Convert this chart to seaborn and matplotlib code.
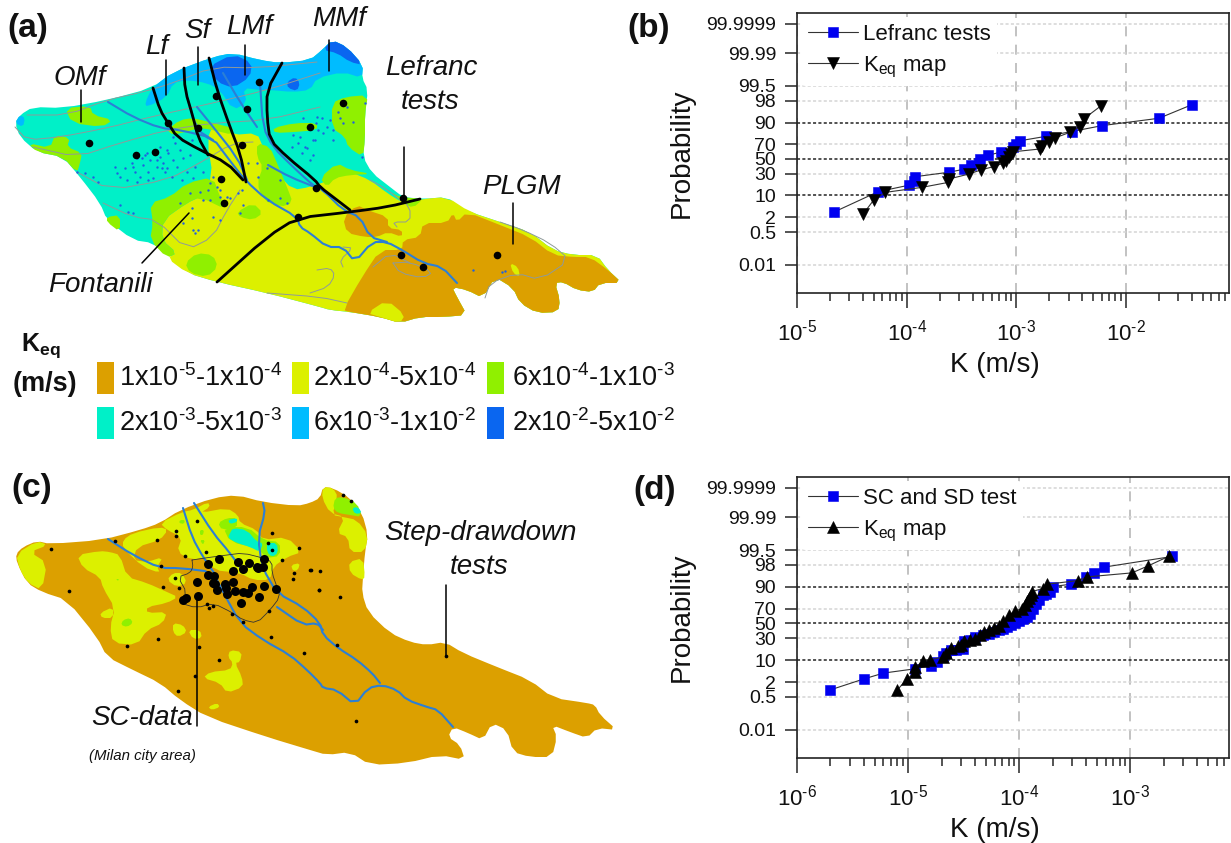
#!/usr/bin/env python3
from statistics import NormalDist

import numpy as np
import pandas as pd
import seaborn as sns
import matplotlib.pyplot as plt
from matplotlib.patches import Rectangle
from matplotlib.ticker import LogLocator, NullFormatter, NullLocator

W, H = 1231, 843

# probability plots
prob_ticks = [0.01, 0.5, 2, 10, 30, 50, 70, 90, 98, 99.5, 99.99, 99.9999]
prob_labels = ['0.01', '0.5', '2', '10', '30', '50', '70', '90', '98', '99.5', '99.99', '99.9999']

lefranc_k = [2.18e-5, 5.5e-5, 1.06e-4, 1.17e-4, 1.19e-4, 2.42e-4, 3.3e-4, 3.9e-4, 4.6e-4, 4.7e-4,
             5.5e-4, 7.3e-4, 9.3e-4, 1e-3, 1.09e-3, 1.88e-3, 3.2e-3, 6.1e-3, 2e-2, 4e-2]
lefranc_p = [3.1, 12.5, 17.9, 22, 26.6, 32, 35.8, 41.6, 45, 50,
             55, 59.8, 66, 70, 74, 78.8, 83.3, 88, 92.4, 97.2]

map_b_k = [4e-5, 5e-5, 6.4e-5, 1.38e-4, 2.4e-4, 2.42e-4, 3.7e-4, 4.75e-4, 6.2e-4, 7.6e-4, 8e-4,
           8.5e-4, 8.9e-4, 9.4e-4, 1.66e-3, 1.7e-3, 2e-3, 2.25e-3, 3.1e-3, 3.8e-3, 4.1e-3, 5.9e-3]
map_b_p = [2.6, 7.4, 12, 15.9, 20.5, 24, 29.8, 35, 39.4, 44, 47.6,
           52.4, 57, 60, 63.8, 68, 73, 77, 82.7, 87.3, 92, 96.9]

sc_k = [2e-6, 4e-6, 6e-6, 1.15e-5, 1.6e-5, 1.8e-5, 2.06e-5, 2.2e-5, 2.43e-5, 2.7e-5, 3.1e-5, 3.2e-5,
        3.6e-5, 4e-5, 4.7e-5, 5.3e-5, 5.9e-5, 6.5e-5, 7.2e-5, 7.8e-5, 8.5e-5, 9.2e-5, 1e-4, 1.08e-4,
        1.18e-4, 1.25e-4, 1.33e-4, 1.42e-4, 1.5e-4, 1.62e-4, 1.75e-4, 1.9e-4, 2e-4, 2.9e-4, 4e-4,
        4.7e-4, 5.8e-4, 2.37e-3]
sc_p = [1, 2.6, 4.1, 5.6, 7, 8.8, 13, 15, 17.3, 18, 18.9, 26.6,
        28, 32, 34, 36, 38, 41, 43, 45, 47.6, 50, 53.7, 56,
        59.3, 63, 70, 75, 79.4, 84, 85, 86.8, 90.2, 91.6, 95,
        96.1, 97.6, 99.06]

map_d_k = [8e-6, 9.8e-6, 1.15e-5, 1.16e-5, 1.36e-5, 1.58e-5, 2.07e-5, 2.2e-5, 2.43e-5, 2.8e-5, 3e-5,
           3.2e-5, 3.6e-5, 4e-5, 4.4e-5, 4.8e-5, 5.3e-5, 5.9e-5, 6.5e-5, 7.2e-5, 8.1e-5, 9.2e-5,
           1.05e-4, 1.13e-4, 1.18e-4, 1.22e-4, 1.27e-4, 1.3e-4, 1.62e-4, 1.79e-4, 3.4e-4, 4.1e-4,
           1.03e-3, 1.43e-3, 2.24e-3]
map_d_p = [1, 2.6, 4.4, 6.3, 9.2, 10.2, 12, 15, 19.5, 21, 23,
           26.6, 28, 29.8, 34, 38.4, 41, 44, 47, 53, 61.6, 66.8,
           70, 74, 78, 81, 84, 86.8, 89, 91.6, 93.4, 94.9,
           96.2, 97.8, 99.1]

# map legend
class_colors = ['#dca000', '#dcf000', '#90f000', '#00f0c8', '#00bcff', '#0a66f0']
class_labels = ['1x10$^{\u20105}$-1x10$^{\u20104}$', '2x10$^{\u20104}$-5x10$^{\u20104}$',
                '6x10$^{\u20104}$-1x10$^{\u20103}$', '2x10$^{\u20103}$-5x10$^{\u20103}$',
                '6x10$^{\u20103}$-1x10$^{\u20102}$', '2x10$^{\u20102}$-5x10$^{\u20102}$']
ORANGE, YELLOW, GREEN, TEAL, SKY, BLUE = class_colors
RIVER = '#2b7fd6'
GREY = '#8f9a9a'

# map (a), traced in image pixels
a_bottom = [(600, 283), (593, 292), (577, 290), (563, 282), (555, 283), (560, 300), (558, 312), (537, 313), (520, 303),
            (513, 288), (495, 277), (483, 298), (467, 290), (452, 287), (457, 297), (467, 315), (443, 317), (420, 317),
            (400, 323), (380, 317), (350, 312), (330, 310), (320, 307), (267, 293), (217, 282), (187, 273)]
a_outline = [(15, 123), (20, 115), (33, 107), (63, 108), (107, 100), (152, 88), (173, 72), (213, 57), (233, 53),
             (260, 60), (280, 63), (310, 60), (322, 50), (332, 40), (347, 47), (363, 65), (362, 78), (368, 90),
             (365, 113), (365, 137), (363, 157), (372, 173), (390, 187), (403, 197), (423, 199), (447, 197), (460, 207),
             (470, 212), (500, 222), (530, 232), (553, 250), (573, 255), (597, 255), (608, 270), (622, 283)] + a_bottom + [
             (177, 260), (153, 243), (133, 240), (107, 220), (100, 203), (80, 177), (63, 157), (37, 152), (20, 137)]
a_sky = [[(145, 103), (152, 88), (173, 72), (213, 57), (233, 53), (260, 60), (280, 63), (310, 60), (322, 50), (332, 40),
          (347, 47), (363, 65), (362, 78), (343, 72), (317, 78), (310, 90), (293, 92), (270, 90), (260, 90), (243, 88),
          (247, 103), (233, 110), (220, 90), (207, 83), (187, 80), (173, 83), (167, 97), (147, 107)],
         [(15, 123), (20, 115), (25, 118), (23, 127)]]
a_blue = [[(208, 67), (233, 54), (252, 63), (250, 77), (233, 88), (217, 82)],
          [(323, 50), (332, 40), (347, 47), (363, 65), (350, 62), (337, 53)],
          [(287, 82), (295, 77), (300, 83), (297, 91), (288, 88)]]
a_yellow = [[(213, 125), (233, 135), (257, 133), (263, 147), (267, 165), (277, 173), (293, 190), (310, 187), (330, 180),
             (350, 172), (370, 180), (387, 193), (403, 203), (423, 199), (447, 197), (470, 212), (500, 222), (530, 232),
             (553, 250), (573, 255), (597, 255), (608, 270), (622, 283)] + a_bottom + [
             (167, 258), (177, 253), (162, 240), (163, 220), (187, 203), (200, 197), (213, 177), (207, 140)]]
a_green = [[(28, 143), (50, 148), (55, 135), (70, 138), (67, 147), (82, 153), (80, 163), (77, 173), (63, 157), (37, 152)],
           [(65, 108), (90, 106), (93, 115), (113, 120), (102, 127), (72, 123)],
           [(107, 217), (120, 215), (120, 232), (107, 222)],
           [(150, 203), (170, 197), (187, 183), (213, 177), (220, 197), (227, 210), (200, 197), (187, 203), (163, 220),
            (162, 240), (177, 253), (167, 258), (150, 240), (153, 223)],
           [(185, 263), (197, 253), (213, 255), (218, 267), (207, 277), (190, 273)],
           [(167, 130), (180, 120), (193, 118), (213, 123), (233, 128), (233, 135), (213, 130), (200, 128), (185, 132),
            (173, 135)],
           [(257, 143), (270, 147), (277, 163), (287, 187), (293, 203), (280, 207), (263, 200), (257, 183), (263, 167),
            (257, 157)],
           [(237, 212), (253, 203), (263, 213), (253, 220), (240, 217)],
           [(273, 128), (295, 123), (317, 123), (317, 130), (295, 132), (275, 133)],
           [(332, 103), (345, 97), (368, 95), (365, 113), (365, 140), (363, 157), (348, 147), (345, 137), (332, 128)],
           [(320, 178), (337, 163), (350, 170), (372, 174), (350, 175), (335, 178), (327, 187)],
           [(400, 197), (423, 199), (413, 208), (403, 203), (390, 192)]]
a_orange = [[(403, 240), (420, 237), (423, 223), (447, 223), (453, 213), (457, 222), (467, 212), (500, 225), (530, 237),
             (553, 255), (573, 257), (590, 257), (608, 270), (622, 283), (600, 283), (593, 292), (577, 290), (563, 282),
             (555, 283), (560, 300), (558, 312), (537, 313), (520, 303), (513, 288), (495, 277), (483, 298), (467, 290),
             (452, 287), (457, 297), (467, 315), (443, 317), (420, 317), (400, 323), (380, 317), (350, 312), (343, 310),
             (362, 277), (380, 250), (402, 250)],
            [(343, 218), (357, 205), (367, 210), (388, 217), (388, 228), (402, 230), (402, 237), (388, 232), (377, 237),
             (365, 237), (347, 233)]]
a_yellow_top = [[(367, 313), (387, 300), (405, 315), (400, 323), (380, 317)],
                [(510, 263), (518, 267), (520, 277), (513, 273)]]
a_rivers = [[(108, 102), (133, 117), (160, 128), (180, 130), (213, 138), (227, 157), (245, 180), (267, 200), (297, 217),
             (300, 227), (310, 233), (327, 247), (343, 247), (355, 262), (372, 242), (387, 242), (402, 250), (423, 263),
             (442, 267), (457, 283)],
            [(260, 83), (263, 127), (273, 147), (293, 167), (315, 187), (323, 190), (343, 210), (360, 217), (370, 237),
             (387, 242)],
            [(197, 107), (210, 123), (237, 157), (247, 180)],
            [(187, 97), (197, 130), (213, 140)],
            [(223, 73), (240, 102), (257, 127)],
            [(268, 165), (290, 177), (315, 187)]]
a_greys = [[(27, 115), (67, 115), (107, 100), (143, 92), (173, 83), (213, 67), (257, 68), (317, 62)],
           [(15, 127), (27, 140), (60, 137), (107, 128), (150, 117), (213, 103), (267, 90), (320, 73)],
           [(33, 147), (77, 157), (120, 143), (167, 130), (213, 123), (267, 120), (320, 107)],
           [(77, 172), (110, 190), (167, 180), (200, 163), (233, 143), (253, 142)],
           [(103, 203), (133, 217), (157, 220), (187, 250), (213, 237), (227, 210), (240, 190)],
           [(317, 270), (330, 268), (335, 275), (328, 287), (310, 293)],
           [(370, 180), (383, 187), (397, 197), (410, 207), (410, 222), (393, 222), (397, 227)],
           [(393, 263), (410, 262), (433, 272), (423, 278), (400, 273), (393, 263)],
           [(373, 267), (390, 253), (410, 263)],
           [(500, 222), (523, 230), (550, 243), (570, 260), (540, 280), (517, 273), (490, 283), (485, 298)],
           [(343, 247), (353, 248), (340, 260), (343, 267)],
           [(267, 293), (320, 297), (347, 303)]]
a_faults = [[(153, 88), (160, 110), (168, 123), (177, 137), (200, 150), (227, 163), (243, 180)],
            [(184, 68), (185, 90), (193, 117), (198, 137), (208, 155)],
            [(209, 58), (217, 90), (230, 127), (240, 153), (246, 182)],
            [(282, 63), (267, 90), (267, 117), (270, 140), (287, 157), (315, 180), (320, 187), (337, 200), (350, 210)],
            [(217, 282), (267, 237), (297, 218), (350, 212), (387, 207), (420, 199)]]
a_wells = [(89, 143), (136, 155), (155, 152), (168, 123), (198, 128), (216, 96), (259, 82), (247, 109), (242, 145),
           (221, 179), (224, 203), (298, 217), (316, 188), (310, 127), (343, 103), (403, 198), (401, 255), (423, 267),
           (497, 255)]
a_dots_x = [115, 117, 120, 125, 127, 132, 135, 137, 140, 143, 145, 148, 150, 153, 157, 160, 163, 165, 168, 172, 173, 177,
            180, 183, 187, 190, 192, 183, 175, 167, 160, 148, 137, 195, 203, 193, 182, 167, 162, 157, 147, 142, 133, 173,
            77, 85, 93, 98, 120, 128, 133, 213, 210, 217, 220, 208, 200, 190, 220, 227, 230, 238, 242, 243, 203, 210, 180,
            192, 213, 192, 183, 193, 198, 195, 220, 240, 267, 248, 257, 268, 287, 280, 258, 280, 293, 298, 303, 307, 302,
            317, 316, 313, 300, 292, 305, 310, 313, 322, 327, 330, 333, 340, 343, 347, 338, 343, 318, 323, 333, 315, 353,
            365, 362, 473, 502, 505]
a_dots_y = [167, 173, 177, 168, 180, 163, 172, 158, 177, 165, 155, 172, 160, 178, 167, 157, 163, 172, 153, 177, 160, 167,
            150, 158, 172, 155, 140, 140, 143, 150, 147, 180, 182, 167, 172, 178, 180, 168, 168, 160, 153, 158, 167, 137,
            172, 173, 177, 182, 205, 212, 213, 177, 183, 187, 190, 190, 192, 193, 197, 197, 198, 193, 190, 205, 200, 200,
            203, 208, 217, 218, 223, 230, 230, 233, 220, 213, 168, 163, 163, 200, 203, 198, 177, 180, 135, 143, 118, 148,
            153, 117, 123, 140, 137, 147, 147, 160, 155, 118, 127, 120, 130, 118, 123, 107, 112, 105, 130, 133, 140, 140,
            122, 103, 157, 270, 272, 271]

# map (c), traced in image pixels
c_outline = [(16, 554), (23, 547), (37, 541), (50, 544), (102, 540), (140, 530), (160, 523), (180, 510), (213, 498),
             (237, 495), (263, 502), (297, 506), (310, 503), (320, 498), (323, 487), (333, 488), (350, 498), (362, 513),
             (368, 535), (365, 552), (363, 577), (362, 593), (368, 612), (390, 633), (410, 642), (427, 645), (445, 642),
             (463, 653), (497, 667), (530, 680), (553, 698), (587, 703), (595, 705), (600, 715), (617, 730), (597, 728),
             (587, 738), (570, 732), (552, 725), (557, 737), (552, 757), (530, 757), (513, 752), (507, 730), (492, 723),
             (483, 740), (468, 733), (453, 727), (448, 737), (460, 745), (465, 760), (440, 755), (407, 763), (370, 765),
             (350, 752), (327, 755), (310, 750), (267, 737), (207, 717), (180, 700), (160, 683), (133, 670), (107, 657),
             (97, 637), (67, 600), (42, 592), (27, 583), (17, 563)]
c_yellow = [[(16, 554), (37, 541), (48, 545), (30, 552), (47, 563), (42, 590), (28, 583), (20, 570)],
            [(77, 555), (100, 551), (110, 552), (120, 555), (127, 577), (147, 583), (167, 592), (178, 597), (167, 603),
             (147, 607), (147, 613), (167, 612), (163, 623), (147, 630), (137, 645), (113, 643), (110, 627), (115, 608),
             (103, 588), (100, 577), (83, 568)],
            [(100, 613), (113, 607), (113, 618), (102, 618)],
            [(123, 540), (133, 533), (160, 527), (168, 530), (160, 540), (137, 547), (133, 560), (147, 562), (163, 557),
             (157, 567), (160, 573), (143, 567), (123, 548)],
            [(160, 523), (182, 512), (193, 510), (208, 502), (210, 507), (200, 513), (227, 508), (238, 515), (240, 523),
             (257, 530), (263, 540), (287, 537), (302, 552), (287, 557), (273, 567), (270, 580), (253, 580), (240, 573),
             (213, 570), (207, 557), (192, 560), (177, 552), (182, 537), (167, 530)],
            [(173, 573), (182, 573), (187, 583), (177, 587), (167, 580)],
            [(173, 623), (183, 625), (187, 632), (178, 637), (173, 632)],
            [(188, 630), (200, 630), (202, 638), (193, 639)],
            [(230, 650), (242, 652), (240, 662), (235, 663), (242, 677), (243, 687), (227, 693), (220, 683), (203, 678),
             (210, 672), (230, 670), (233, 663), (228, 657)],
            [(208, 707), (217, 703), (220, 707), (212, 710)],
            [(291, 565), (300, 563), (298, 570), (293, 571)],
            [(323, 487), (333, 488), (338, 497), (332, 515), (343, 517), (357, 520), (368, 535), (365, 552), (350, 552),
             (348, 537), (337, 533), (345, 517), (330, 513), (322, 498)],
            [(349, 562), (363, 558), (365, 577), (362, 580), (350, 573)]]
c_green = [[(123, 620), (130, 618), (133, 623), (127, 627), (121, 625)],
           [(116, 579), (119, 579), (118, 581)],
           [(180, 520), (185, 520), (184, 524), (179, 523)],
           [(200, 530), (204, 530), (203, 535), (200, 535)],
           [(200, 540), (205, 540), (203, 545)],
           [(218, 523), (227, 518), (237, 518), (237, 528), (222, 530)],
           [(223, 527), (248, 527), (263, 540), (280, 542), (280, 556), (267, 558), (257, 548), (230, 542)],
           [(335, 498), (343, 497), (357, 503), (362, 517), (350, 515), (338, 513), (333, 508)]]
c_teal = [[(230, 533), (233, 528), (247, 530), (257, 542), (263, 543), (260, 552), (250, 547), (237, 543), (228, 538)],
          [(267, 543), (277, 543), (278, 553), (272, 557), (267, 552)],
          [(228, 520), (237, 518), (237, 522), (230, 524)],
          [(352, 508), (358, 507), (362, 513), (355, 514)]]
c_rivers = [[(108, 539), (133, 555), (160, 568), (180, 568), (213, 572), (222, 590), (240, 623), (263, 640), (290, 655),
             (307, 670), (320, 683), (323, 688), (337, 690), (355, 705), (368, 688), (382, 685), (397, 690), (407, 700),
             (427, 707), (438, 710), (453, 727)],
            [(263, 503), (265, 513), (258, 537), (262, 567), (277, 593), (303, 607), (320, 623), (323, 635), (338, 648),
             (357, 660), (372, 673), (380, 683)],
            [(183, 508), (192, 537), (203, 557), (217, 577)],
            [(194, 503), (213, 533), (230, 553), (242, 570)],
            [(277, 607), (303, 625), (317, 623), (323, 630)]]
c_city = [(192, 560), (205, 558), (227, 555), (243, 553), (263, 558), (272, 562), (272, 573), (277, 587), (280, 597),
          (270, 610), (257, 623), (243, 620), (233, 613), (213, 603), (197, 608), (180, 603), (187, 593), (178, 577),
          (190, 573), (193, 567), (192, 560)]
c_wells = [(51, 549), (69, 591), (115, 541), (157, 540), (176, 531), (176, 536), (197, 521), (185, 556), (206, 552),
           (161, 566), (175, 578), (163, 587), (179, 588), (207, 604), (209, 608), (213, 606), (232, 614), (243, 622),
           (269, 611), (158, 639), (127, 646), (199, 647), (219, 660), (195, 676), (178, 691), (271, 637), (304, 653),
           (272, 533), (268, 543), (299, 548), (282, 560), (272, 550), (311, 570), (294, 573), (293, 579), (319, 590),
           (310, 570), (320, 571), (319, 590), (340, 597), (337, 645), (356, 721), (446, 656), (343, 495), (351, 501)]
c_blobs_x = [208, 219, 238, 249, 257, 264, 263, 233, 243, 197, 208, 214, 215, 233, 225, 217, 226, 227, 235, 243, 248,
             252, 264, 276, 259, 241, 186, 198, 183, 258, 213]
c_blobs_y = [564, 559, 562, 563, 567, 559, 567, 571, 569, 582, 575, 576, 584, 582, 584, 590, 588, 594, 591, 592, 593, 587,
             586, 589, 597, 603, 598, 596, 600, 568, 583]

leaders = [((166, 60), (166, 95)), ((198, 47), (198, 85)), ((245, 45), (245, 75)), ((329, 40), (329, 71)),
           ((81, 90), (81, 122)), ((189, 213), (142, 263)), ((404, 147), (404, 198)), ((513, 203), (513, 244)),
           ((197, 597), (197, 726)), ((446, 585), (446, 656))]


def smooth(points, closed=True, rounds=1):
    pts = np.array(points, dtype=float)
    for _ in range(rounds):
        nxt = np.roll(pts, -1, axis=0)
        q = 0.75 * pts + 0.25 * nxt
        r = 0.25 * pts + 0.75 * nxt
        both = np.column_stack([q, r]).reshape(-1, 2)
        if closed:
            pts = both
        else:
            pts = np.vstack([pts[0], both[:-2], pts[-1]])
    return pts


def fill_areas(ax, areas, color, z=1):
    for area in areas:
        pts = smooth(area)
        ax.fill(pts[:, 0], pts[:, 1], color=color, lw=0, zorder=z)


def draw_lines(ax, groups, rounds=1, **style):
    for group in groups:
        pts = smooth(group, closed=False, rounds=rounds)
        ax.plot(pts[:, 0], pts[:, 1], solid_capstyle='round', solid_joinstyle='round', **style)


def probit(p):
    p = np.clip(np.asarray(p, dtype=float), 1e-7, 100 - 1e-7)
    return np.vectorize(lambda v: NormalDist().inv_cdf(v / 100), otypes=[float])(p)


def inverse_probit(z):
    return np.vectorize(lambda v: NormalDist().cdf(v) * 100, otypes=[float])(np.asarray(z, dtype=float))


def prob_panel(box, k1, p1, k2, p2, label1, label2, marker2, xlim, xticks, xticklabels):
    left, top, right, bottom = box
    ax = fig.add_axes([left / W, 1 - bottom / H, (right - left) / W, (bottom - top) / H])
    df1 = pd.DataFrame({'K': k1, 'P': p1})
    df2 = pd.DataFrame({'K': k2, 'P': p2})
    sns.lineplot(data=df1, x='K', y='P', sort=False, estimator=None, ax=ax, color='#333333', lw=0.8,
                 marker='s', ms=6.6, mfc='#0000f0', mec='#0000f0', mew=0.4, label=label1, zorder=4)
    sns.lineplot(data=df2, x='K', y='P', sort=False, estimator=None, ax=ax, color='#333333', lw=0.8,
                 marker=marker2, ms=8, mfc='black', mec='black', mew=0.4, label=label2, zorder=5)
    ax.set_xscale('log')
    ax.set_yscale('function', functions=(probit, inverse_probit))
    ax.set_xlim(*xlim)
    ax.set_ylim(1.2e-4, 99.999986)
    ax.set_yticks(prob_ticks)
    ax.set_yticklabels(prob_labels)
    ax.yaxis.set_minor_locator(NullLocator())
    ax.set_xticks(xticks)
    ax.set_xticklabels(xticklabels)
    ax.xaxis.set_minor_locator(LogLocator(base=10, subs=np.arange(2, 10) / 10, numticks=20))
    ax.xaxis.set_minor_formatter(NullFormatter())
    ax.tick_params(axis='y', which='major', length=9, width=1.1, labelsize=14, pad=6, direction='out', labelcolor='#111111')
    ax.tick_params(axis='x', which='major', length=10.8, width=1.1, labelsize=16, pad=8, direction='out', labelcolor='#111111')
    ax.tick_params(axis='x', which='minor', length=5.5, width=1.1, direction='out')
    ax.set_axisbelow(True)
    ax.xaxis.grid(True, which='major', color='#b8b8b8', ls=(0, (6, 5)), lw=1.2)
    for p in prob_ticks:
        if p in (10, 50, 90):
            ax.axhline(p, color='#222222', ls=(0, (2, 1.5)), lw=1.1, zorder=1)
        else:
            ax.axhline(p, color='#d4d4d4', ls=(0, (2, 1.5)), lw=1.1, zorder=1)
    for side in ax.spines.values():
        side.set_linewidth(1.2)
        side.set_color('#222222')
    ax.set_xlabel('K (m/s)', fontsize=20, color='#111111')
    ax.set_ylabel('Probability', fontsize=20, color='#111111')
    ax.xaxis.set_label_coords(0.458, -0.21)
    ax.yaxis.set_label_coords(-0.236, 0.5)
    leg = ax.legend(loc='upper left', frameon=True, framealpha=1, edgecolor='none', facecolor='white', fontsize=16,
                    labelspacing=0.42, borderaxespad=0.2, handlelength=2.25, handletextpad=0.2, borderpad=0.3)
    for text in leg.get_texts():
        text.set_color('#111111')
    return ax


sns.set_theme(style='ticks')
plt.rcParams['font.family'] = ['Liberation Sans', 'DejaVu Sans']
plt.rcParams['mathtext.fontset'] = 'custom'
plt.rcParams['mathtext.rm'] = 'Liberation Sans'
plt.rcParams['mathtext.bf'] = 'Liberation Sans:bold'
plt.rcParams['mathtext.default'] = 'regular'
plt.rcParams['axes.edgecolor'] = '#222222'

fig = plt.figure(figsize=(W / 100, H / 100), dpi=100, facecolor='white')

# canvas in pixels for the two maps and all free text
bg = fig.add_axes([0, 0, 1, 1])
bg.set_xlim(0, W)
bg.set_ylim(H, 0)
bg.axis('off')

# map (a)
fill_areas(bg, [a_outline], TEAL, 1)
fill_areas(bg, a_sky, SKY, 2)
fill_areas(bg, a_blue, BLUE, 3)
fill_areas(bg, a_yellow, YELLOW, 2)
fill_areas(bg, a_green, GREEN, 3)
fill_areas(bg, a_orange, ORANGE, 4)
fill_areas(bg, a_yellow_top, YELLOW, 5)
draw_lines(bg, a_greys, color=GREY, lw=0.7, zorder=6)
draw_lines(bg, a_rivers, color=RIVER, lw=1.5, zorder=7)
draw_lines(bg, a_faults, color='black', lw=2.0, zorder=8)
bg.scatter(a_dots_x, a_dots_y, s=3, color='#2060e0', lw=0, zorder=7)
xs, ys = zip(*a_wells)
bg.scatter(xs, ys, s=30, color='black', lw=0, zorder=9)

# map (c)
fill_areas(bg, [c_outline], ORANGE, 1)
fill_areas(bg, c_yellow, YELLOW, 2)
fill_areas(bg, c_green, GREEN, 3)
fill_areas(bg, c_teal, TEAL, 4)
draw_lines(bg, c_rivers, color=RIVER, lw=1.5, zorder=5)
draw_lines(bg, [c_city], color='#333333', lw=0.6, zorder=5)
xs, ys = zip(*c_wells)
bg.scatter(xs, ys, s=7, color='black', lw=0, zorder=7)
bg.scatter(c_blobs_x, c_blobs_y, s=42, color='black', lw=0, zorder=7)

for start, end in leaders:
    bg.plot([start[0], end[0]], [start[1], end[1]], color='black', lw=1.1, zorder=9)

# colour classes
swatch_x = [97, 292, 487]
swatch_y = [362, 407]
text_x = [119, 313, 512]
for i, (color, label) in enumerate(zip(class_colors, class_labels)):
    row, col = divmod(i, 3)
    bg.add_patch(Rectangle((swatch_x[col], swatch_y[row]), 17, 32, color=color, lw=0, zorder=3))
    bg.text(text_x[col], swatch_y[row] + 16, label, fontsize=19.5, va='center', ha='left', color='#111111')
bg.text(41, 346, r'$\mathbf{K_{eq}}$', fontsize=18, ha='center', va='center', fontweight='bold', color='#111111')
bg.text(45, 384, '(m/s)', fontsize=19.5, ha='center', va='center', fontweight='bold', color='#111111')

# panel letters
for letter, x, y in [('(a)', 28, 28), ('(b)', 649, 28), ('(c)', 32, 489), ('(d)', 655, 490)]:
    bg.text(x, y, letter, fontsize=24, fontweight='bold', ha='center', va='center', color='#111111')

# names on the maps
for name, x, y in [('Lf', 157, 47), ('Sf', 197, 31), ('LMf', 249, 27), ('MMf', 339, 19), ('OMf', 80, 78),
                   ('Lefranc', 431, 68), ('tests', 430, 102), ('PLGM', 521, 187), ('Fontanili', 100, 285),
                   ('Step-drawdown', 480, 533), ('tests', 479, 567), ('SC-data', 142, 718)]:
    bg.text(x, y, name, fontsize=20, style='italic', ha='center', va='center', color='#111111')
bg.text(142, 756, '(Milan city area)', fontsize=10.8, style='italic', ha='center', va='center', color='#111111')

prob_panel((797, 13, 1229, 293), lefranc_k, lefranc_p, map_b_k, map_b_p, 'Lefranc tests',
           'K$_{eq}$ map', 'v', (1e-5, 8.7e-2), [1e-5, 1e-4, 1e-3, 1e-2],
           ['10$^{\u20105}$', '10$^{\u20104}$', '10$^{\u20103}$', '10$^{\u20102}$'])
prob_panel((797, 477, 1229, 758), sc_k, sc_p, map_d_k, map_d_p, 'SC and SD test',
           'K$_{eq}$ map', '^', (1e-6, 7.7e-3), [1e-6, 1e-5, 1e-4, 1e-3],
           ['10$^{\u20106}$', '10$^{\u20105}$', '10$^{\u20104}$', '10$^{\u20103}$'])

fig.savefig('out.png', dpi=100)
